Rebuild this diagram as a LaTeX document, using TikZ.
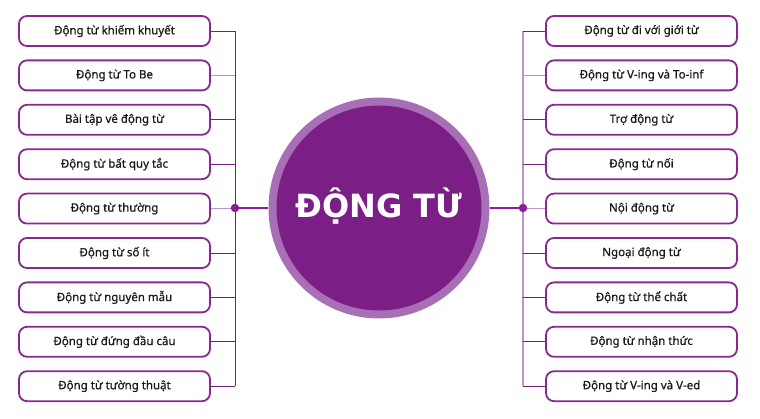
\documentclass[tikz,border=0pt]{standalone}
\usepackage{fontspec}
\setmainfont{Noto Sans}[FakeBold=0.6]
\newfontfamily\titlefont{DejaVu Sans}

\definecolor{coreplum}{HTML}{7B1F87}
\definecolor{ringplum}{HTML}{A86FB6}
\definecolor{boxplum}{HTML}{87298F}
\definecolor{lineplum}{HTML}{6F2279}
\definecolor{paleplum}{HTML}{BF92C8}
\definecolor{hubplum}{HTML}{8A1E96}

\begin{document}
\begin{tikzpicture}[x=1pt,y=-1pt,
    itembox/.style={draw=boxplum, line width=1.8pt, rounded corners=8pt,
      minimum width=191pt, minimum height=30pt, fill=white, text=black!90,
      font=\fontsize{11.5}{13}\selectfont},
    stub/.style={draw=lineplum, line width=0.9pt},
    palestub/.style={draw=paleplum, line width=1.1pt},
    hub/.style={draw=hubplum, line width=2.2pt},
    hubdot/.style={circle, fill=hubplum, inner sep=0pt, minimum size=8.5pt}]

    % Canvas
    \useasboundingbox (0,0) rectangle (760,419);

    % Central circle
    \node[circle, fill=ringplum, minimum size=221pt, inner sep=0pt] (ring) at (379,208) {};
    \node[circle, fill=coreplum, minimum size=205pt, inner sep=0pt] (core) at (379,208) {};
    \node[anchor=base, text=white, font=\titlefont\bfseries\fontsize{32}{36}\selectfont]
      (title) at (379,218) {ĐỘNG TỪ};

    % Left boxes
    \foreach \txt [count=\i] in {Động từ khiếm khuyết, Động từ To Be, Bài tập vê động từ,
        Động từ bất quy tắc, Động từ thường, Động từ số ít, Động từ nguyên mẫu,
        Động từ đứng đầu câu, Động từ tường thuật}
      \node[itembox] (l\i) at (114.5,{31+44.4*(\i-1)}) {\bfseries\txt};

    % Right boxes
    \foreach \txt [count=\i] in {Động từ đi với giới từ, Động từ V-ing và To-inf, Trợ động từ,
        Động từ nối, Nội động từ, Ngoại động từ, Động từ thể chất,
        Động từ nhận thức, Động từ V-ing và V-ed}
      \node[itembox] (r\i) at (641.5,{31+44.4*(\i-1)}) {\bfseries\txt};

    % Bus points
    \coordinate (lbus) at (235,208);
    \coordinate (rbus) at (523,208);

    % Left connectors
    \draw[stub] (l1.east -| lbus) -- (l9.east -| lbus);
    \foreach \i in {1,3,4,6,7,8,9}
      \draw[stub] (l\i.east) -- (l\i.east -| lbus);
    \foreach \i in {2,5}
      \draw[palestub] (l\i.east) -- (l\i.east -| lbus);

    % Right connectors
    \draw[palestub] (r1.west -| rbus) -- (r9.west -| rbus);
    \foreach \i in {1,3,4,6,7,8,9}
      \draw[stub] (r\i.west) -- (r\i.west -| rbus);
    \foreach \i in {2,5}
      \draw[palestub] (r\i.west) -- (r\i.west -| rbus);

    % Hub lines
    \draw[hub] (lbus) -- (ring.west);
    \draw[hub] (rbus) -- (ring.east);
    \node[hubdot] (ldot) at (lbus) {};
    \node[hubdot] (rdot) at (rbus) {};
\end{tikzpicture}
\end{document}
